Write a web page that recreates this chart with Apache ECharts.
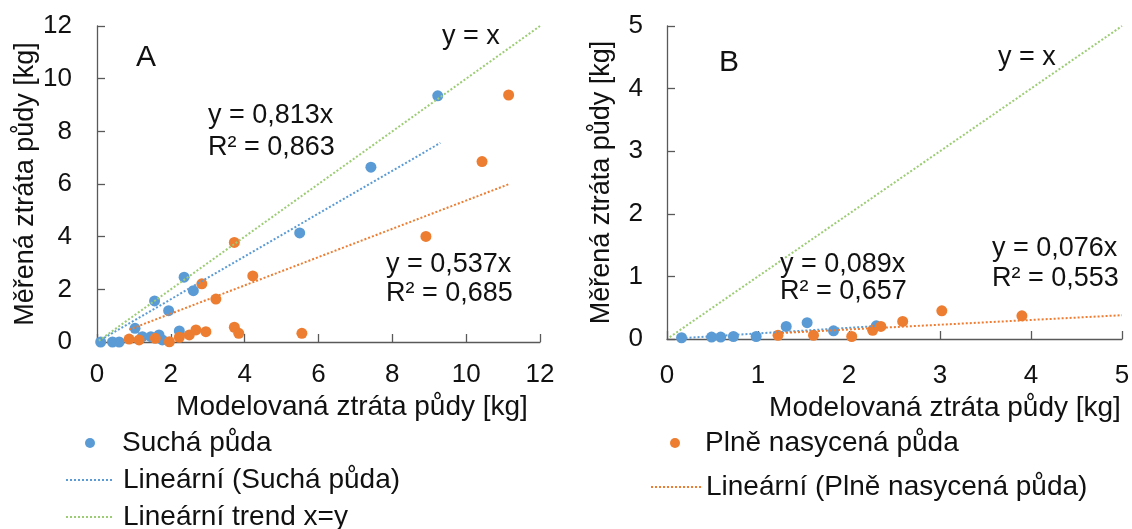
<!DOCTYPE html>
<html>
<head>
<meta charset="utf-8">
<script src="https://cdn.jsdelivr.net/npm/echarts@6/dist/echarts.min.js"></script>
<style>
  html, body { margin: 0; padding: 0; background: #fff; }
  #chart { width: 1132px; height: 529px; }
</style>
</head>
<body>
<div id="chart"></div>
<script>
// panel A – dry soil [modelled, measured]
var dryA = [[0.1, 0], [0.42, 0], [0.6, 0], [1.03, 0.52], [1.23, 0.2], [1.46, 0.2], [1.68, 0.27], [1.77, 0.08],
  [1.56, 1.56], [1.94, 1.19], [2.23, 0.42], [2.36, 2.46], [2.61, 1.95], [5.49, 4.14], [7.42, 6.64], [9.23, 9.35]]
// panel A – saturated soil
var wetA = [[0.87, 0.11], [1.14, 0.08], [1.58, 0.14], [1.96, 0.01], [2.23, 0.18], [2.5, 0.27], [2.68, 0.46],
  [2.95, 0.39], [2.84, 2.21], [3.22, 1.63], [3.72, 3.78], [4.22, 2.51], [3.72, 0.56], [3.84, 0.33], [5.55, 0.33],
  [8.91, 4.01], [10.43, 6.85], [11.15, 9.38]]
// panel B
var dryB = [[0.16, 0.02], [0.49, 0.03], [0.59, 0.03], [0.73, 0.04], [0.98, 0.04], [1.31, 0.2], [1.54, 0.26],
  [1.83, 0.13], [2.3, 0.21]]
var wetB = [[1.22, 0.06], [1.61, 0.06], [2.03, 0.04], [2.26, 0.14], [2.35, 0.2], [2.59, 0.28], [3.02, 0.45], [3.9, 0.37]]

// trend line end points
var trendDryA = [[0.1, 0.08], [9.3, 7.56]]
var trendWetA = [[0.87, 0.47], [11.15, 5.99]]
var trendOneA = [[0.05, 0.05], [12, 12]]
var trendDryB = [[0.16, 0.014], [2.3, 0.205]]
var trendWetB = [[1.22, 0.093], [5, 0.38]]
var trendOneB = [[0.03, 0.03], [5, 5]]

var ticksA = [0, 12, 2]
var ticksB = [0, 5, 1]

var names = ['Suchá půda', 'Plně nasycená půda', 'Lineární (Suchá půda)', 'Lineární (Plně nasycená půda)', 'Lineární trend x=y']
var eqA = ['y = 0,813x', 'R² = 0,863', 'y = 0,537x', 'R² = 0,685']
var eqB = ['y = 0,089x', 'R² = 0,657', 'y = 0,076x', 'R² = 0,553']
var xTitle = 'Modelovaná ztráta půdy [kg]'
var yTitle = 'Měřená ztráta půdy [kg]'

var blue = '#5b9bd5'
var orange = '#ed7d31'
var green = '#9ccc74'
var font = '"Liberation Sans", Arial, sans-serif'
var ink = '#111'

function axis (t, extra) {
  var a = {
    type: 'value',
    min: t[0],
    max: t[1],
    interval: t[2],
    splitLine: { show: false },
    axisLine: { show: true, onZero: false, lineStyle: { color: '#595959', width: 1.3 } },
    axisTick: { show: true, inside: true, length: 8, lineStyle: { color: '#595959', width: 1.3 } },
    axisLabel: { color: ink, fontSize: 26, fontFamily: font },
    nameTextStyle: { color: ink, fontSize: 28, fontFamily: font }
  }
  return Object.assign(a, extra)
}

function dots (name, data, color, idx) {
  return { name: name, type: 'scatter', xAxisIndex: idx, yAxisIndex: idx, data: data,
    symbolSize: 11, itemStyle: { color: color, opacity: 1 }, z: 2 }
}
function trend (name, data, color, idx) {
  return { name: name, type: 'line', xAxisIndex: idx, yAxisIndex: idx, data: data,
    symbol: 'none', silent: true, z: 3,
    lineStyle: { color: color, width: 2, type: 'dotted' }, itemStyle: { color: color } }
}
function txt (s, x, y, size, align) {
  return { type: 'text', x: x, y: y, z: 10,
    style: { text: s, fill: ink, fontSize: size || 27, fontFamily: font, align: align || 'left', verticalAlign: 'middle' } }
}
// one legend row; trend lines show only the dotted line, no marker
function row (name, left, top, w, isLine, gap) {
  return {
    orient: 'vertical', left: left, top: top, padding: 0, itemWidth: w, itemHeight: 10,
    textStyle: { color: ink, fontSize: 28, fontFamily: font, padding: [0, 0, 0, gap] },
    data: [isLine ? { name: name, itemStyle: { opacity: 0 } } : name]
  }
}

var chart = echarts.init(document.getElementById('chart'))
chart.setOption({
  animation: false,
  backgroundColor: '#fff',
  grid: [
    { left: 97, top: 26, width: 443, height: 316, containLabel: false, outerBoundsMode: 'none' },
    { left: 667, top: 26, width: 455, height: 313, containLabel: false, outerBoundsMode: 'none' }
  ],
  xAxis: [
    axis(ticksA, { gridIndex: 0, axisLabel: { color: ink, fontSize: 26, fontFamily: font, margin: 20 },
      name: xTitle, nameLocation: 'middle', nameGap: 32,
      nameTextStyle: { color: ink, fontSize: 28, fontFamily: font, lineHeight: 28, padding: [0, 0, 0, 67] } }),
    axis(ticksB, { gridIndex: 1, axisLabel: { color: ink, fontSize: 26, fontFamily: font, margin: 24 },
      name: xTitle, nameLocation: 'middle', nameGap: 42,
      nameTextStyle: { color: ink, fontSize: 28, fontFamily: font, lineHeight: 28, padding: [0, 0, 0, 101] } })
  ],
  yAxis: [
    axis(ticksA, { gridIndex: 0, axisLabel: { color: ink, fontSize: 26, fontFamily: font, margin: 25 },
      name: yTitle, nameLocation: 'middle', nameGap: 56, nameTextStyle: { color: ink, fontSize: 27, fontFamily: font } }),
    axis(ticksB, { gridIndex: 1, axisLabel: { color: ink, fontSize: 26, fontFamily: font, margin: 24 },
      name: yTitle, nameLocation: 'middle', nameGap: 52, nameTextStyle: { color: ink, fontSize: 27, fontFamily: font } })
  ],
  legend: [
    row(names[0], 85, 429, 10, false, 22),
    row(names[2], 65, 466, 48, true, 4),
    row(names[4], 65, 503, 48, true, 4),
    row(names[1], 670, 429, 10, false, 20),
    row(names[3], 650, 473, 50, true, 0)
  ],
  graphic: [
    txt('A', 146, 57.5, 30, 'center'),
    txt('y = x', 442, 37),
    txt(eqA[0], 208, 116),
    txt(eqA[1], 208, 147.5),
    txt(eqA[2], 386, 265),
    txt(eqA[3], 386, 294),
    txt('B', 729, 63, 30, 'center'),
    txt('y = x', 998, 58),
    txt(eqB[0], 780, 265),
    txt(eqB[1], 780, 292),
    txt(eqB[2], 992, 249),
    txt(eqB[3], 992, 279)
  ],
  series: [
    dots(names[0], dryA, blue, 0),
    dots(names[1], wetA, orange, 0),
    trend(names[2], trendDryA, blue, 0),
    trend(names[3], trendWetA, orange, 0),
    trend(names[4], trendOneA, green, 0),
    dots(names[0], dryB, blue, 1),
    dots(names[1], wetB, orange, 1),
    trend(names[2], trendDryB, blue, 1),
    trend(names[3], trendWetB, orange, 1),
    trend(names[4], trendOneB, green, 1)
  ]
})
</script>
</body>
</html>
